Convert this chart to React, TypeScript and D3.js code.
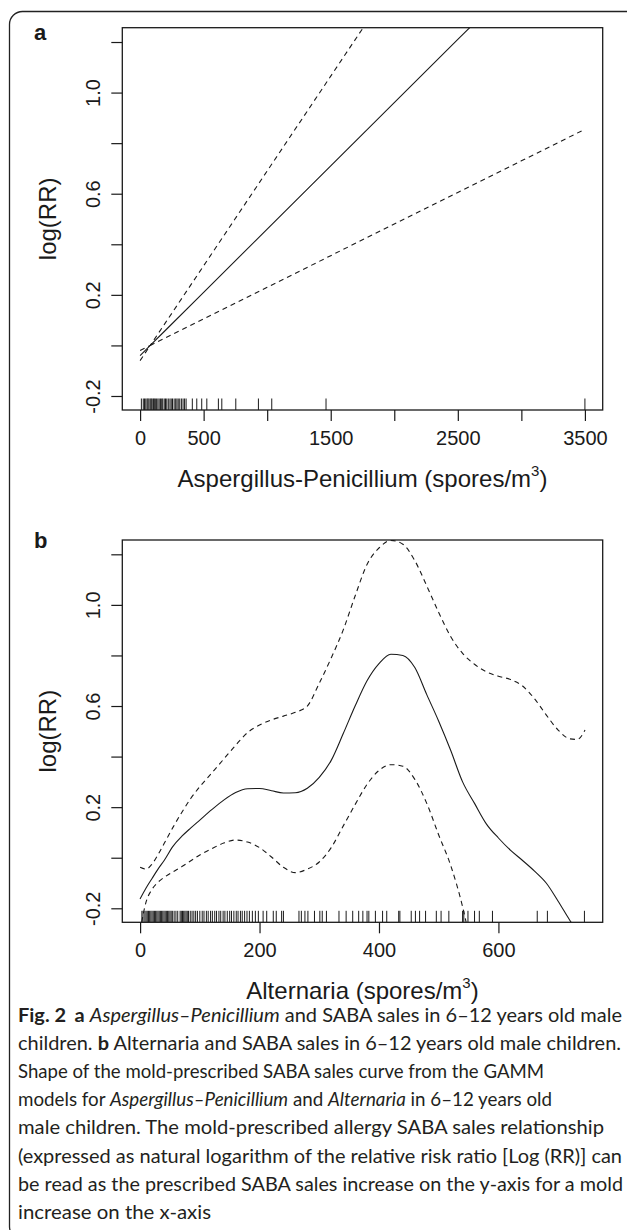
import React, { useEffect, useRef } from 'react';
import * as d3 from 'd3';

// panel a: Aspergillus-Penicillium
const aX = [0, 80, 200, 500, 1000, 1500, 2000, 2500, 3000, 3500];
const aFit = [-0.04, 0, 0.06, 0.21, 0.46, 0.71, 0.96, 1.21, 1.46, 1.71];
const aUpper = [-0.02, 0, 0.09, 0.315, 0.69, 1.065, 1.44, 1.815, 2.19, 2.565];
const aLower = [-0.06, 0, 0.03, 0.105, 0.23, 0.355, 0.48, 0.605, 0.73, 0.855];
const aRug = [10, 25, 35, 45, 55, 62, 70, 80, 88, 95, 105, 112, 120, 130, 140, 150, 160, 170, 178, 190,
  200, 210, 222, 235, 245, 255, 268, 280, 290, 300, 312, 325, 338, 350, 362,
  411, 446, 485, 525, 616, 643, 753, 931, 1036, 1463, 3500];
const aXTicks = [0, 500, 1000, 1500, 2000, 2500, 3000, 3500];
const aXLabels = [0, 500, 1500, 2500, 3500];

// panel b: Alternaria
const bX = [0, 10, 20, 30, 40, 55, 70, 85, 100, 120, 140, 160, 180, 200, 220, 240, 260, 280, 300, 320, 340,
  360, 380, 400, 420, 440, 460, 480, 500, 520, 540, 560, 580, 600, 620, 640, 660, 680, 700, 720, 732, 745];
const bFit = [-0.163, -0.12, -0.082, -0.045, -0.012, 0.045, 0.085, 0.118, 0.149, 0.19, 0.228, 0.258, 0.273,
  0.274, 0.265, 0.256, 0.257, 0.275, 0.318, 0.385, 0.49, 0.6, 0.7, 0.768, 0.805, 0.8, 0.752, 0.645, 0.54,
  0.425, 0.3, 0.215, 0.133, 0.078, 0.03, -0.01, -0.052, -0.1, -0.172, -0.249, -0.29, -0.33];
const bUpper = [-0.038, -0.045, -0.025, 0.012, 0.055, 0.12, 0.18, 0.235, 0.281, 0.335, 0.39, 0.445, 0.495,
  0.525, 0.545, 0.56, 0.575, 0.6, 0.69, 0.79, 0.9, 1.035, 1.16, 1.225, 1.255, 1.24, 1.175, 1.075, 0.97,
  0.875, 0.808, 0.765, 0.735, 0.718, 0.705, 0.68, 0.63, 0.565, 0.505, 0.47, 0.468, 0.505];
const bLower = [-0.29, -0.175, -0.125, -0.097, -0.078, -0.056, -0.035, -0.012, 0.011, 0.036, 0.058, 0.07,
  0.062, 0.04, 0.003, -0.038, -0.059, -0.045, -0.017, 0.04, 0.125, 0.21, 0.29, 0.345, 0.368, 0.362, 0.31,
  0.215, 0.09, -0.03, -0.194, -0.42, null, null, null, null, null, null, null, null, null, null];
const bRug = [3, 5, 8, 10, 12, 14, 16, 18, 20, 22, 24, 26, 28, 30, 32, 34, 36, 38, 40, 42, 44, 46, 48, 50,
  52, 54, 57, 60, 63, 67, 69, 71, 73, 75, 77, 79, 81, 84, 87, 90, 93, 96, 100, 104, 107, 111, 114, 118,
  121, 125, 128, 132, 135, 139, 142, 146, 150, 153, 157, 161, 164, 168, 171, 175, 179, 183, 188, 193,
  198, 206, 212, 223, 228, 237, 240, 266, 270, 276, 281, 292, 301, 305, 312, 333, 345, 356, 366, 373,
  380, 383, 394, 406, 413, 433, 435, 454, 461, 468, 478, 496, 504, 517, 540, 542, 549, 560, 568, 590,
  665, 682, 744];
const bXTicks = [0, 200, 400, 600];
const bXLabels = [0, 200, 400, 600];

const yTicks = [-0.2, 0, 0.2, 0.4, 0.6, 0.8, 1.0, 1.2];
const yLabels = [-0.2, 0.2, 0.6, 1.0];

const captionLines = [
  'Fig. 2  a Aspergillus–Penicillium and SABA sales in 6–12 years old male',
  'children. b Alternaria and SABA sales in 6–12 years old male children.',
  'Shape of the mold-prescribed SABA sales curve from the GAMM',
  'models for Aspergillus–Penicillium and Alternaria in 6–12 years old',
  'male children. The mold-prescribed allergy SABA sales relationship',
  '(expressed as natural logarithm of the relative risk ratio [Log (RR)] can',
  'be read as the prescribed SABA sales increase on the y-axis for a mold',
  'increase on the x-axis',
];
const captionWidths = [604, 603, 526, 534, 586, 604, 605, 193];

const W = 627;
const H = 1230;
const left = 122.3;
const right = 602.7;
const plotH = 382.3;
const yDomain: [number, number] = [-0.2554, 1.2566];
const font = '"Liberation Sans", Arial, Helvetica, sans-serif';
const capFont = 'Lato, "Open Sans", sans-serif';
const ink = '#1a1a1a';

function Panel(props: any) {
  const { id, top, label, labelY, xDomain, xTicks, xLabels, xs, fit, upper, lower, rug, title, curve } = props;
  const bottom = top + plotH;
  const x = d3.scaleLinear().domain(xDomain).range([left, right]);
  const y = d3.scaleLinear().domain(yDomain).range([bottom, top]);
  const xRef = useRef<SVGGElement>(null);
  const yRef = useRef<SVGGElement>(null);

  useEffect(() => {
    const xAxis = d3.axisBottom(x)
      .tickValues(xTicks)
      .tickSize(11)
      .tickSizeOuter(0)
      .tickPadding(10)
      .tickFormat((d: any) => (xLabels.includes(d) ? String(d) : ''));
    const gx = d3.select(xRef.current).call(xAxis as any);
    gx.attr('font-size', 20).attr('font-family', font);
    gx.select('.domain').remove();
    gx.selectAll('.tick line').attr('stroke', ink).attr('stroke-width', 1.2);
    gx.selectAll('.tick text').attr('fill', ink);

    const yAxis = d3.axisLeft(y)
      .tickValues(yTicks)
      .tickSize(11)
      .tickSizeOuter(0)
      .tickFormat((d: any) => (yLabels.some(v => Math.abs(v - d) < 1e-9) ? d.toFixed(1) : ''));
    const gy = d3.select(yRef.current).call(yAxis as any);
    gy.attr('font-size', 20).attr('font-family', font);
    gy.select('.domain').remove();
    gy.selectAll('.tick line').attr('stroke', ink).attr('stroke-width', 1.2);
    gy.selectAll('.tick text')
      .attr('fill', ink)
      .attr('transform', 'rotate(-90)')
      .attr('x', 0)
      .attr('y', -22)
      .attr('dy', 0)
      .attr('text-anchor', 'middle');
  }, []);

  const idx = d3.range(xs.length);
  const path = (vals: (number | null)[]) =>
    d3.line<number>()
      .defined(i => vals[i] != null)
      .x(i => x(xs[i]))
      .y(i => y(vals[i] as number))
      .curve(curve)(idx) || '';

  const cx = (left + right) / 2;
  const cy = (top + bottom) / 2;

  return (
    <g>
      <defs>
        <clipPath id={id}>
          <rect x={left} y={top} width={right - left} height={plotH} />
        </clipPath>
      </defs>
      <text x={34} y={labelY} fontFamily={font} fontWeight="bold" fontSize={22} fill={ink}>{label}</text>
      <g clipPath={`url(#${id})`} fill="none" stroke={ink} strokeWidth={1.1}>
        <path d={path(upper)} strokeDasharray="5,4" />
        <path d={path(lower)} strokeDasharray="5,4" />
        <path d={path(fit)} />
        {rug.map((r: number, i: number) => (
          <line key={i} x1={x(r)} x2={x(r)} y1={bottom} y2={bottom - 11.5} strokeWidth={1} />
        ))}
      </g>
      <rect x={left} y={top} width={right - left} height={plotH} fill="none" stroke={ink} strokeWidth={1.3} />
      <g ref={xRef} transform={`translate(0, ${bottom})`} />
      <g ref={yRef} transform={`translate(${left}, 0)`} />
      <text x={cx} y={bottom + 77} textAnchor="middle" fontFamily={font} fontSize={24} fill={ink}>
        {title}
        <tspan dy={-11} fontSize={15}>3</tspan>
        <tspan dy={11}>)</tspan>
      </text>
      <text transform={`translate(56, ${cy}) rotate(-90)`} textAnchor="middle" fontFamily={font} fontSize={24} fill={ink}>
        log(RR)
      </text>
    </g>
  );
}

function CaptionLine({ i }: { i: number }) {
  const y = 1021.5 + i * 28.2;
  const common = { x: 18, y, fontFamily: capFont, fontSize: 19, fill: '#231f20', textLength: captionWidths[i], lengthAdjust: 'spacingAndGlyphs' as any };
  if (i === 0) {
    return (
      <text {...common}>
        <tspan fontWeight="bold">Fig. 2</tspan>
        <tspan dx={8} fontWeight="bold">a</tspan>
        <tspan> </tspan>
        <tspan fontStyle="italic">Aspergillus–Penicillium</tspan>
        <tspan> and SABA sales in 6–12 years old male</tspan>
      </text>
    );
  }
  if (i === 1) {
    return (
      <text {...common}>
        <tspan>children. </tspan>
        <tspan fontWeight="bold">b</tspan>
        <tspan> Alternaria and SABA sales in 6–12 years old male children.</tspan>
      </text>
    );
  }
  if (i === 3) {
    return (
      <text {...common}>
        <tspan>models for </tspan>
        <tspan fontStyle="italic">Aspergillus–Penicillium</tspan>
        <tspan> and </tspan>
        <tspan fontStyle="italic">Alternaria</tspan>
        <tspan> in 6–12 years old</tspan>
      </text>
    );
  }
  return <text {...common}>{captionLines[i]}</text>;
}

export default function App() {
  return (
    <svg width={W} height={H} style={{ position: 'absolute', left: 0, top: 0, display: 'block', background: '#fff' }}>
      <rect x={9.5} y={11.5} width={700} height={1228} rx={13} ry={13} fill="#fff" stroke="#222" strokeWidth={1.3} />
      <Panel id="clipA" top={27.7} label="a" labelY={40} xDomain={[-140, 3640]} xTicks={aXTicks} xLabels={aXLabels}
        xs={aX} fit={aFit} upper={aUpper} lower={aLower} rug={aRug}
        title="Aspergillus-Penicillium (spores/m" curve={d3.curveLinear} />
      <Panel id="clipB" top={540} label="b" labelY={548} xDomain={[-29.8, 774.6]} xTicks={bXTicks} xLabels={bXLabels}
        xs={bX} fit={bFit} upper={bUpper} lower={bLower} rug={bRug}
        title="Alternaria (spores/m" curve={d3.curveMonotoneX} />
      {captionLines.map((_, i) => <CaptionLine key={i} i={i} />)}
    </svg>
  );
}
